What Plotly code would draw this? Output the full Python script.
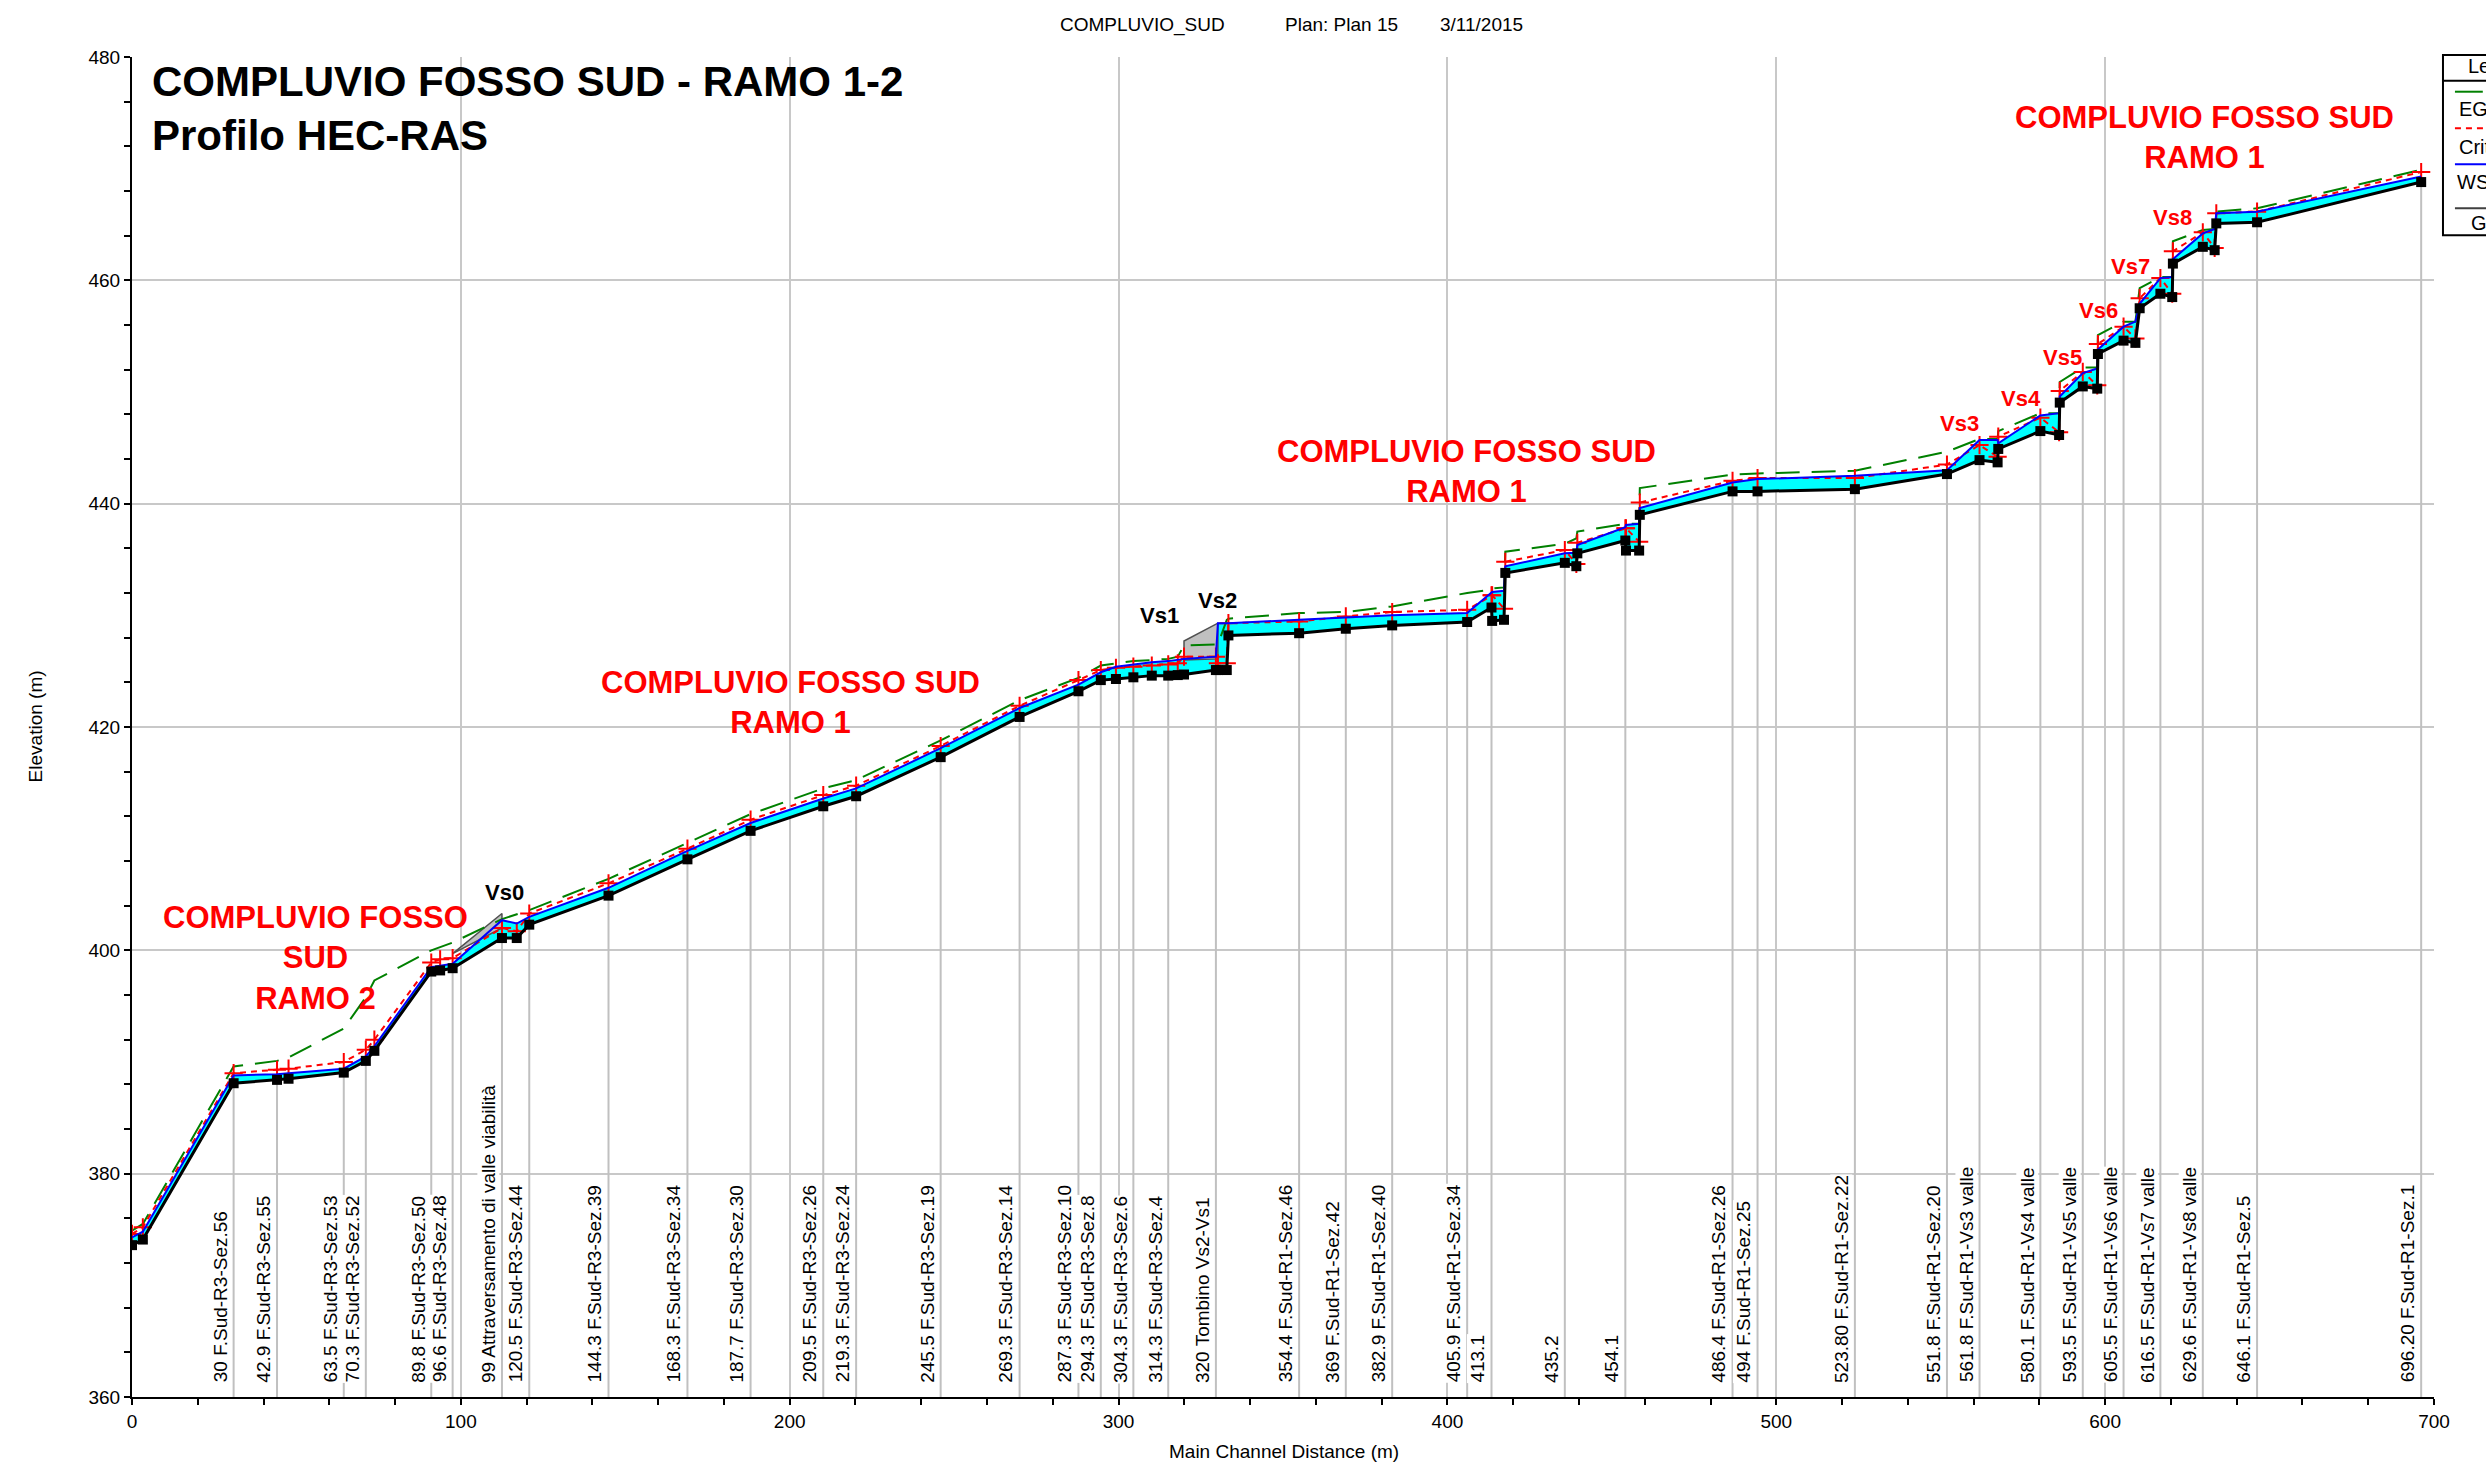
import plotly.graph_objects as go

# ---------------- data ----------------
dist = [0.0, 3.3, 30.9, 44.1, 47.6, 64.4, 71.1, 73.7, 91.0, 93.7, 97.5, 112.5, 117.0, 120.8,
        144.9, 168.9, 188.1, 210.2, 220.2, 245.9, 269.9, 287.8, 294.6, 299.2, 304.5, 310.1,
        315.1, 318.0, 319.9, 329.6, 330.2, 332.9, 333.4, 354.9, 369.1, 383.2, 406.0, 413.4,
        413.6, 417.2, 417.6, 435.7, 439.2, 439.5, 454.1, 454.3, 458.3, 458.5, 486.7, 494.3,
        523.9, 551.9, 561.8, 567.3, 567.5, 580.3, 586.0, 586.2, 593.2, 597.6, 597.8, 605.6,
        609.2, 610.5, 616.8, 620.4, 620.6, 629.7, 633.3, 633.8, 646.2, 696.1]

ground = [373.6, 374.1, 388.1, 388.4, 388.5, 389.05, 390.1, 391.0, 398.1, 398.2, 398.4, 401.1,
          401.1, 402.3, 404.9, 408.15, 410.7, 412.9, 413.8, 417.3, 420.9, 423.2, 424.2, 424.3,
          424.45, 424.6, 424.6, 424.65, 424.7, 425.1, 425.1, 425.1, 428.2, 428.4, 428.8, 429.1,
          429.4, 430.7, 429.5, 429.6, 433.8, 434.7, 434.4, 435.55, 436.7, 435.8, 435.8, 439.0,
          441.1, 441.1, 441.3, 442.65, 443.9, 443.7, 444.9, 446.5, 446.15, 449.05, 450.5, 450.3,
          453.4, 454.6, 454.4, 457.5, 458.8, 458.5, 461.5, 463.0, 462.7, 465.1, 465.2, 468.8]

ws = [374.3, 374.8, 388.8, 388.9, 389.0, 389.4, 390.5, 391.4, 398.5, 398.6, 398.8, 402.7, 402.4,
      403.0, 405.6, 408.9, 411.4, 413.6, 414.5, 418.1, 421.7, 423.8, 424.9, 425.4, 425.6, 425.8,
      425.9, 426.0, 426.1, 426.3, 429.3, 429.3, 429.3, 429.6, 429.8, 430.0, 430.2, 432.1, 432.1,
      432.2, 434.4, 435.55, 435.6, 436.3, 437.9, 438.1, 438.2, 439.6, 441.9, 442.2, 442.5, 443.0,
      445.7, 445.7, 445.4, 447.9, 448.1, 449.6, 451.7, 452.1, 453.8, 455.85, 456.3, 457.9, 460.2,
      460.3, 461.9, 464.2, 464.6, 466.0, 466.15, 469.3]

crit = [374.6, 375.2, 389.0, 389.3, 389.4, 390.0, 391.1, 392.0, 398.9, 399.2, 399.3, 402.0, 401.7,
        403.3, 406.0, 409.1, 411.7, 413.9, 414.75, 418.3, 421.9, 424.2, 425.1, 425.3, 425.4, 425.5,
        425.6, 425.7, 426.3, 426.3, 425.7, 425.7, 429.3, 429.45, 429.9, 430.3, 430.5, 431.8, 431.8,
        430.6, 434.8, 435.85, 434.6, 436.5, 437.8, 437.8, 436.6, 440.1, 442.05, 442.3, 442.3, 443.5,
        445.25, 444.2, 446.0, 447.7, 446.4, 450.1, 451.8, 450.6, 454.3, 455.85, 454.8, 458.4, 460.2,
        458.8, 462.6, 464.3, 462.9, 466.0, 466.15, 469.7]

eg = [374.9, 375.5, 389.6, 390.1, 390.4, 393.0, 395.8, 397.3, 400.0, 400.3, 400.7, 402.8, 403.2,
      403.6, 406.4, 409.6, 412.2, 414.5, 415.25, 418.8, 422.4, 424.4, 425.5, 425.7, 425.9, 426.0,
      426.1, 426.3, 427.3, 427.4, 427.4, 429.6, 429.7, 430.2, 430.3, 430.8, 432.0, 432.3, 432.4,
      432.5, 435.7, 436.4, 436.9, 437.5, 438.2, 438.2, 438.2, 441.4, 442.6, 442.7, 442.95, 444.65,
      445.8, 445.8, 446.5, 448.1, 448.1, 450.9, 452.2, 452.2, 455.1, 456.3, 456.3, 459.3, 460.3,
      460.3, 463.5, 464.5, 464.6, 466.15, 466.45, 469.9]

# structures (weir Vs0, culvert Vs1-Vs2)
vs0_x = [97.5, 112.5, 112.5, 97.5]
vs0_y = [399.7, 403.3, 402.0, 399.7]
vs12_x = [319.9, 319.9, 330.2, 330.2, 319.9]
vs12_y = [426.0, 427.7, 429.3, 426.1, 426.0]

# cross-section labels
label_pos = [30.9, 44.1, 64.4, 71.1, 91.0, 97.5, 112.5, 120.8, 144.9, 168.9, 188.1, 210.2, 220.2,
             245.9, 269.9, 287.8, 294.6, 304.5, 315.1, 329.6, 354.9, 369.1, 383.2, 406.0, 413.4,
             435.7, 454.1, 486.7, 494.3, 523.9, 551.9, 561.8, 580.3, 593.2, 605.6, 616.8, 629.7,
             646.2, 696.1]
label_txt = ["30 F.Sud-R3-Sez.56", "42.9 F.Sud-R3-Sez.55", "63.5 F.Sud-R3-Sez.53",
             "70.3 F.Sud-R3-Sez.52", "89.8 F.Sud-R3-Sez.50", "96.6 F.Sud-R3-Sez.48",
             "99 Attraversamento di valle viabilità", "120.5 F.Sud-R3-Sez.44",
             "144.3 F.Sud-R3-Sez.39", "168.3 F.Sud-R3-Sez.34", "187.7 F.Sud-R3-Sez.30",
             "209.5 F.Sud-R3-Sez.26", "219.3 F.Sud-R3-Sez.24", "245.5 F.Sud-R3-Sez.19",
             "269.3 F.Sud-R3-Sez.14", "287.3 F.Sud-R3-Sez.10", "294.3 F.Sud-R3-Sez.8",
             "304.3 F.Sud-R3-Sez.6", "314.3 F.Sud-R3-Sez.4", "320 Tombino Vs2-Vs1",
             "354.4 F.Sud-R1-Sez.46", "369 F.Sud-R1-Sez.42", "382.9 F.Sud-R1-Sez.40",
             "405.9 F.Sud-R1-Sez.34", "413.1", "435.2", "454.1", "486.4 F.Sud-R1-Sez.26",
             "494 F.Sud-R1-Sez.25", "523.80 F.Sud-R1-Sez.22", "551.8 F.Sud-R1-Sez.20",
             "561.8 F.Sud-R1-Vs3 valle", "580.1 F.Sud-R1-Vs4 valle", "593.5 F.Sud-R1-Vs5 valle",
             "605.5 F.Sud-R1-Vs6 valle", "616.5 F.Sud-R1-Vs7 valle", "629.6 F.Sud-R1-Vs8 valle",
             "646.1 F.Sud-R1-Sez.5", "696.20 F.Sud-R1-Sez.1"]

vs_names = ["Vs0", "Vs1", "Vs2", "Vs3", "Vs4", "Vs5", "Vs6", "Vs7", "Vs8"]
vs_x = [113.3, 312.3, 330.1, 555.7, 574.4, 587.0, 598.0, 607.8, 620.6]
vs_y = [405.2, 430.0, 431.3, 447.2, 449.4, 453.1, 457.3, 461.2, 465.6]
vs_col = ["black", "black", "black", "red", "red", "red", "red", "red", "red"]

reach_txt = ["COMPLUVIO FOSSO<br>SUD<br>RAMO 2", "COMPLUVIO FOSSO SUD<br>RAMO 1",
             "COMPLUVIO FOSSO SUD<br>RAMO 1", "COMPLUVIO FOSSO SUD<br>RAMO 1"]
reach_x = [55.9, 200.1, 405.9, 630.2]
reach_y = [399.3, 422.15, 442.9, 472.75]

legend_txt = ["Legend", "EG PF 1", "Crit PF 1", "WS PF 1", "Ground"]

assert len(dist) == len(ground) == len(ws) == len(crit) == len(eg)
assert len(label_pos) == len(label_txt)

FONT = "Arial, Liberation Sans, sans-serif"
fig = go.Figure()

# vertical station lines (axis -> ground)
gmap = dict(zip(dist, ground))
lx, ly = [], []
for p in label_pos:
    lx += [p, p, None]
    ly += [360, gmap[p], None]
fig.add_trace(go.Scatter(x=lx, y=ly, mode="lines", line=dict(color="#c0c0c0", width=2),
                         hoverinfo="skip"))

# water fill between ground and WS
fig.add_trace(go.Scatter(x=dist, y=ground, mode="lines", line=dict(width=0, color="rgba(0,0,0,0)"),
                         hoverinfo="skip"))
fig.add_trace(go.Scatter(x=dist, y=ws, mode="lines", line=dict(width=0, color="rgba(0,0,0,0)"),
                         fill="tonexty", fillcolor="#00ffff", hoverinfo="skip"))

# structures
for sx, sy in [(vs0_x, vs0_y), (vs12_x, vs12_y)]:
    fig.add_trace(go.Scatter(x=sx, y=sy, mode="lines", fill="toself", fillcolor="#c0c0c0",
                             line=dict(color="#505050", width=1.5), hoverinfo="skip"))

fig.add_trace(go.Scatter(x=dist, y=eg, mode="lines", name="EG PF 1",
                         line=dict(color="#008000", width=2, dash="24px,12px")))
fig.add_trace(go.Scatter(x=dist, y=crit, mode="lines+markers", name="Crit PF 1",
                         line=dict(color="#ff0000", width=2, dash="6px,5px"),
                         marker=dict(symbol="cross-thin", size=13, color="#ff0000",
                                     line=dict(color="#ff0000", width=2))))
fig.add_trace(go.Scatter(x=dist, y=ws, mode="lines", name="WS PF 1",
                         line=dict(color="#0000ff", width=2)))
fig.add_trace(go.Scatter(x=dist, y=ground, mode="lines+markers", name="Ground",
                         line=dict(color="black", width=3),
                         marker=dict(symbol="square", size=10, color="black")))

ann = []
# station labels
for p, t in zip(label_pos, label_txt):
    ann.append(dict(x=p, y=361.2, xref="x", yref="y", text=t, textangle=-90, showarrow=False,
                    xanchor="right", yanchor="bottom", xshift=-2, bgcolor="white", borderpad=0,
                    font=dict(family=FONT, size=19, color="black")))
# reach labels
for t, x, y in zip(reach_txt, reach_x, reach_y):
    ann.append(dict(x=x, y=y, xref="x", yref="y", text="<b>" + t + "</b>", showarrow=False,
                    xanchor="center", yanchor="middle",
                    font=dict(family=FONT, size=31, color="#ff0000")))
# drop structure labels
for t, x, y, c in zip(vs_names, vs_x, vs_y, vs_col):
    ann.append(dict(x=x, y=y, xref="x", yref="y", text="<b>" + t + "</b>", showarrow=False,
                    xanchor="center", yanchor="middle",
                    font=dict(family=FONT, size=22, color=c)))
# big title
ann.append(dict(x=5.6, y=477.8, xref="x", yref="y", text="<b>COMPLUVIO FOSSO SUD - RAMO 1-2</b>",
                showarrow=False, xanchor="left", yanchor="middle",
                font=dict(family=FONT, size=42, color="black")))
ann.append(dict(x=5.6, y=473.0, xref="x", yref="y", text="<b>Profilo HEC-RAS</b>",
                showarrow=False, xanchor="left", yanchor="middle",
                font=dict(family=FONT, size=42, color="black")))
# top header
for t, xp in [("COMPLUVIO_SUD", 1142), ("Plan: Plan 15", 1341), ("3/11/2015", 1481)]:
    ann.append(dict(x=(xp - 132) / 2302, y=1.0239, xref="paper", yref="paper", text=t,
                    showarrow=False, xanchor="center", yanchor="middle",
                    font=dict(family=FONT, size=19, color="black")))
# axis titles
ann.append(dict(x=0.5005, y=-0.0403, xref="paper", yref="paper", text="Main Channel Distance (m)",
                showarrow=False, xanchor="center", yanchor="middle",
                font=dict(family=FONT, size=19, color="black")))
ann.append(dict(x=-0.042, y=0.5007, xref="paper", yref="paper", text="Elevation (m)",
                textangle=-90, showarrow=False, xanchor="center", yanchor="middle",
                font=dict(family=FONT, size=19, color="black")))

# legend box (clipped by page edge, as in the original)
shapes = [
    dict(type="rect", xref="paper", yref="paper", x0=1.0039, x1=1.06, y0=0.867, y1=1.0015,
         line=dict(color="black", width=2), fillcolor="white", layer="above"),
    dict(type="line", xref="paper", yref="paper", x0=1.0039, x1=1.06, y0=0.9823, y1=0.9823,
         line=dict(color="black", width=2), layer="above"),
    dict(type="line", xref="paper", yref="paper", x0=1.0091, x1=1.0212, y0=0.9741, y1=0.9741,
         line=dict(color="#008000", width=2), layer="above"),
    dict(type="line", xref="paper", yref="paper", x0=1.0091, x1=1.06, y0=0.9468, y1=0.9468,
         line=dict(color="#ff0000", width=2, dash="6px,5px"), layer="above"),
    dict(type="line", xref="paper", yref="paper", x0=1.0091, x1=1.06, y0=0.9199, y1=0.9199,
         line=dict(color="#0000ff", width=2), layer="above"),
    dict(type="line", xref="paper", yref="paper", x0=1.0091, x1=1.06, y0=0.8871, y1=0.8871,
         line=dict(color="#404040", width=2), layer="above"),
]
for t, xp, yp in zip(legend_txt, [2466, 2457, 2457, 2455, 2469],
                     [0.9930, 0.9610, 0.9330, 0.9069, 0.8759]):
    ann.append(dict(x=(xp - 132) / 2302, y=yp, xref="paper", yref="paper", text=t,
                    showarrow=False, xanchor="left", yanchor="middle",
                    font=dict(family=FONT, size=20, color="black")))

fig.update_layout(
    width=2486, height=1473,
    margin=dict(l=132, r=52, t=57, b=76),
    paper_bgcolor="white", plot_bgcolor="white",
    showlegend=False,
    annotations=ann, shapes=shapes,
    font=dict(family=FONT, size=19, color="black"),
)
fig.update_xaxes(range=[0, 700], dtick=100, tick0=0, showgrid=True, gridcolor="#c8c8c8", gridwidth=2,
                 showline=True, linecolor="black", linewidth=2, ticks="outside", ticklen=6,
                 tickcolor="black", tickwidth=2, zeroline=False,
                 minor=dict(dtick=20, ticks="outside", ticklen=6, tickcolor="black", tickwidth=2,
                            showgrid=False),
                 tickfont=dict(family=FONT, size=19, color="black"))
fig.update_yaxes(range=[360, 480], dtick=20, tick0=360, showgrid=True, gridcolor="#c8c8c8", gridwidth=2,
                 showline=True, linecolor="black", linewidth=2, ticks="outside", ticklen=6,
                 tickcolor="black", tickwidth=2, zeroline=False,
                 minor=dict(dtick=4, ticks="outside", ticklen=6, tickcolor="black", tickwidth=2,
                            showgrid=False),
                 tickfont=dict(family=FONT, size=19, color="black"))

fig.write_html("out.html", config={"displayModeBar": False},
               post_script="document.body.style.margin='0';document.body.style.overflow='hidden';")
